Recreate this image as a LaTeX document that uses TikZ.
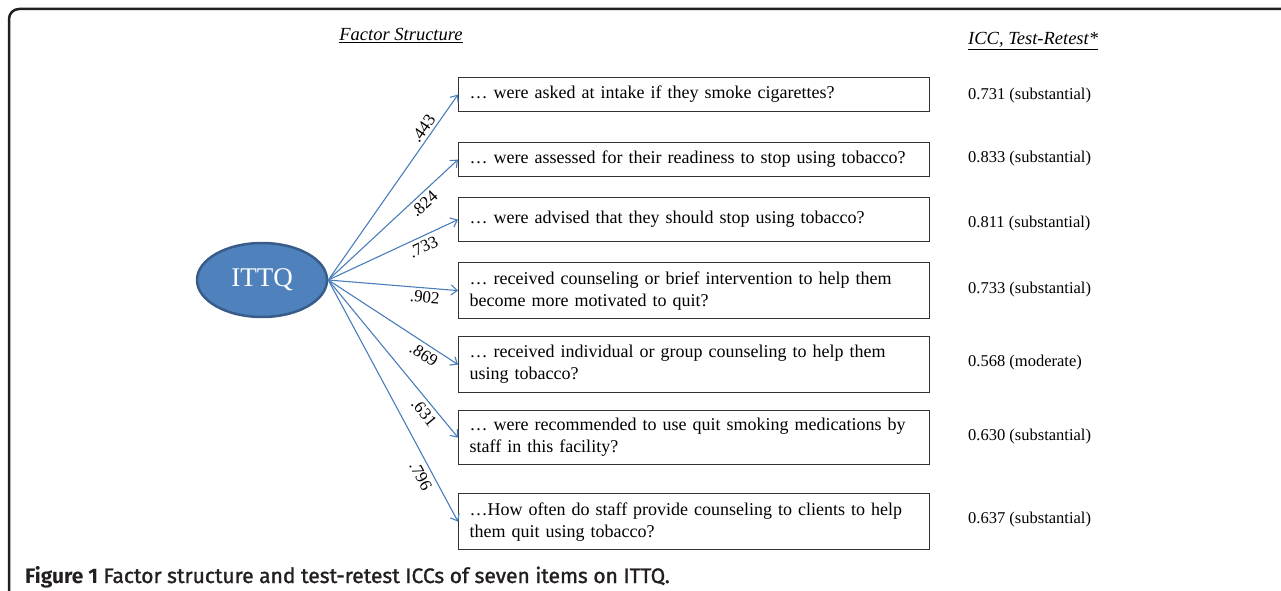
\documentclass[tikz,border=0pt]{standalone}
\usepackage{fontspec}
\setmainfont{Liberation Serif}
\newfontfamily\capfont{Fira Sans}
\newfontfamily\capsemi[FakeBold=1.3]{Fira Sans}
\usetikzlibrary{shapes.geometric,arrows.meta}
\definecolor{ellfill}{HTML}{4F81BD}
\definecolor{elldraw}{HTML}{385D8A}
\definecolor{arrcol}{HTML}{4A7EBB}
\definecolor{framecol}{HTML}{231F20}
\begin{document}
\begin{tikzpicture}[x=1pt,y=-1pt,
  item/.style={draw=black!80, line width=1.2pt, anchor=north west, text width=449pt,
    inner xsep=11pt, inner ysep=0pt, align=left, font=\fontsize{18}{22}\selectfont},
  arr/.style={draw=arrcol, line width=1.1pt, -{Straight Barb[length=6pt,width=10pt]}},
  lab/.style={font=\fontsize{17}{17}\selectfont, inner sep=1pt, sloped},
  icc/.style={anchor=west, inner sep=0pt, font=\fontsize{16.5}{16.5}\selectfont},
  head/.style={anchor=base, font=\fontsize{18.5}{18.5}\selectfont\itshape},
]
\useasboundingbox (0,0) rectangle (1281,591);
% frame
\draw[framecol, line width=2.5pt, rounded corners=10pt] (9,592) -- (9,9) -- (1282,9);
% headers
\node[head] (h1) at (401,41) {\underline{Factor Structure}};
\node[head, anchor=base west, inner sep=0pt] (h2) at (968,45) {\underline{ICC, Test-Retest*}};
% latent
\node[ellipse, draw=elldraw, line width=2.5pt, fill=ellfill, minimum width=130pt,
  minimum height=74pt, inner sep=0pt, text=white, font=\fontsize{27}{27}\selectfont] (e) at (262,280) {ITTQ};
% items
\node[item, minimum height=34pt] (b1) at (458,77) {… were asked at intake if they smoke cigarettes?};
\node[item, minimum height=34pt] (b2) at (458,142) {… were assessed for their readiness to stop using tobacco?};
\node[item, minimum height=44pt] (b3) at (458,197) {… were advised that they should stop using tobacco?};
\node[item, minimum height=56pt] (b4) at (458,262) {… received counseling or brief intervention to help them\\become more motivated to quit?};
\node[item, minimum height=56pt] (b5) at (458,336) {… received individual or group counseling to help them\\using tobacco?};
\node[item, minimum height=54pt] (b6) at (458,410) {… were recommended to use quit smoking medications by\\staff in this facility?};
\node[item, minimum height=56pt] (b7) at (458,493) {…How often do staff provide counseling to clients to help\\them quit using tobacco?};
% connectors
\draw[arr] (e.east) -- node[lab, pos=0.79, above=2pt] {.443} (b1.west);
\draw[arr] (e.east) -- node[lab, pos=0.69, below=2pt] {.824} (b2.west);
\draw[arr] (e.east) -- node[lab, pos=0.70, below=3pt] {.733} (b3.west);
\draw[arr] (e.east) -- node[lab, pos=0.75, below=2pt] {.902} (b4.west);
\draw[arr] (e.east) -- node[lab, pos=0.78, below=3pt] {.869} (b5.west);
\draw[arr] (e.east) -- node[lab, pos=0.80, below=3pt] {.631} (b6.west);
\draw[arr] (e.east) -- node[lab, pos=0.79, below=4pt] {.796} (b7.west);
% ICC values
\node[icc] (c1) at (968,96) {0.731 (substantial)};
\node[icc] (c2) at (968,159) {0.833 (substantial)};
\node[icc] (c3) at (968,224) {0.811 (substantial)};
\node[icc] (c4) at (968,290) {0.733 (substantial)};
\node[icc] (c5) at (968,363) {0.568 (moderate)};
\node[icc] (c6) at (968,437) {0.630 (substantial)};
\node[icc] (c7) at (968,520) {0.637 (substantial)};
% caption
\node[anchor=base west, inner sep=0pt, font=\fontsize{21}{21}\selectfont, text=framecol] (cap) at (25,583)
  {{\capfont\bfseries Figure 1} {\capsemi Factor structure and test-retest ICCs of seven items on ITTQ.}};
\end{tikzpicture}
\end{document}
